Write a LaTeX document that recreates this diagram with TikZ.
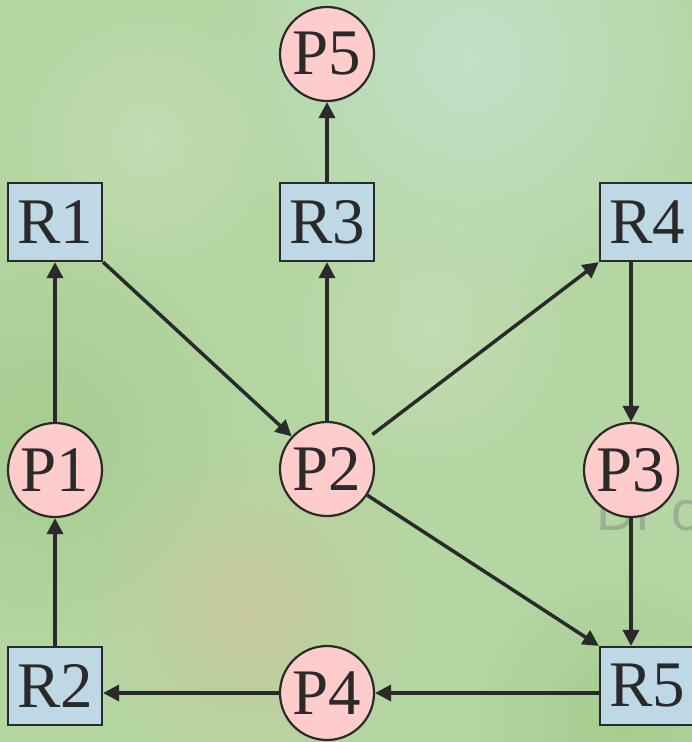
\documentclass[tikz,border=0pt]{standalone}
\usepackage{fontspec}
\setmainfont{Liberation Serif}
\newfontfamily\nodefont{Liberation Serif}
\newfontfamily\wmfont{Liberation Sans}
\usetikzlibrary{arrows.meta,fadings}
\definecolor{boxblue}{HTML}{BFD8E5}
\definecolor{circpink}{HTML}{FFCCCC}
\definecolor{ink}{HTML}{2A2A2A}
\definecolor{bggreen}{HTML}{B4D6A2}
\definecolor{bgcyan}{HTML}{C4E4D2}
\definecolor{bgdeep}{HTML}{A2CA8A}
\definecolor{bgtan}{HTML}{CCC69C}
\definecolor{bglight}{HTML}{C6DEB6}
\tikzfading[name=softblob, inner color=transparent!20, outer color=transparent!100]
\tikzset{
  bx/.style={draw=ink, line width=2.2pt, fill=boxblue, minimum width=94pt, minimum height=78pt, inner sep=0pt, text=ink, font=\nodefont\fontsize{65}{65}\selectfont},
  pc/.style={circle, draw=ink, line width=2.2pt, fill=circpink, minimum size=94pt, inner sep=0pt, text=ink, font=\nodefont\fontsize{65}{65}\selectfont},
  arr/.style={draw=ink, line width=3.5pt, -{Triangle[length=16pt,width=16pt]}},
  blob/.style={fill=#1, path fading=softblob}
}
\begin{document}
\begin{tikzpicture}[x=1pt,y=-1pt]
\useasboundingbox (0,0) rectangle (692,742);
\fill[bggreen] (0,0) rectangle (692,742);
\fill[blob=bgcyan] (470,60) circle (260);
\fill[blob=bgdeep] (40,440) circle (210);
\fill[blob=bglight] (430,330) circle (160);
\fill[blob=bglight] (150,140) circle (150);
\fill[blob=bgtan] (250,610) circle (170);
\fill[blob=bgdeep] (620,720) circle (150);

\node[anchor=base west, inner sep=0pt, font=\wmfont\fontsize{56}{56}\selectfont, text=gray, opacity=0.45] (wm) at (596,530) {Dr\hspace{16pt}o};

\node[bx] (R1) at (55,222) {R1};
\node[bx] (R3) at (327,222) {R3};
\node[bx] (R4) at (647,222) {R4};
\node[bx] (R2) at (55,686) {R2};
\node[bx] (R5) at (647,686) {R5};
\node[pc] (P5) at (327,54) {P5};
\node[pc] (P1) at (55,470) {P1};
\node[pc] (P2) at (327,469) {P2};
\node[pc] (P3) at (631,470) {P3};
\node[pc] (P4) at (327,693) {P4};

\draw[arr] (P1) -- (R1);
\draw[arr] (R2) -- (P1);
\draw[arr] (R1.south east) -- (P2);
\draw[arr] (P2) -- (R3);
\draw[arr] (R3) -- (P5);
\draw[arr, shorten <=9pt] (P2) -- (R4.south west);
\draw[arr] (R4.south -| P3) -- (P3);
\draw[arr] (P3) -- (R5.north -| P3);
\draw[arr] (P2) -- (R5.north west);
\draw[arr] (R5.west |- P4) -- (P4);
\draw[arr] (P4) -- (R2.east |- P4);
\end{tikzpicture}
\end{document}
